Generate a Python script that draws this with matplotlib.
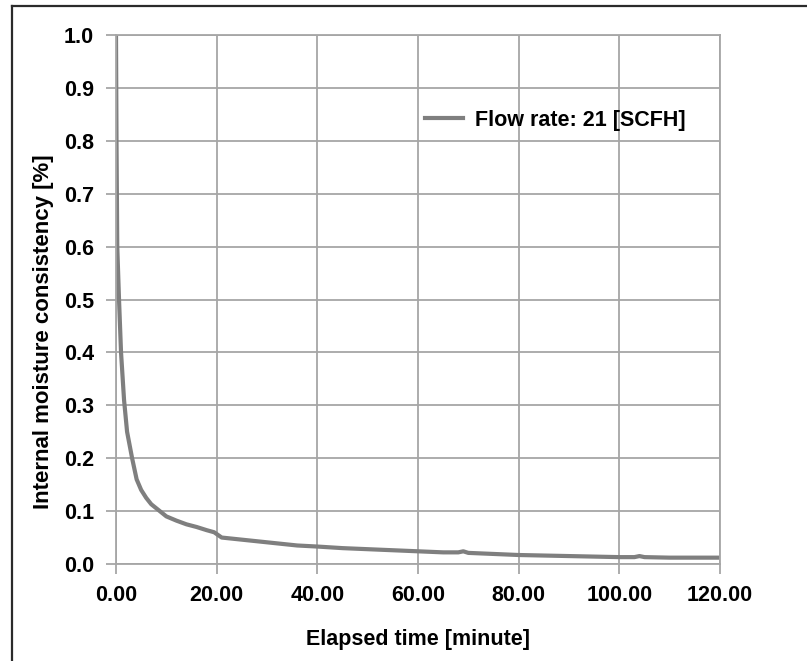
import matplotlib
matplotlib.use("Agg")
import matplotlib.pyplot as plt
from matplotlib.lines import Line2D

plt.rcParams['font.family'] = ['Liberation Sans', 'DejaVu Sans']

time_min = [0, 0.1, 0.25, 0.6, 1.0, 1.6, 2.2, 3.2, 4.1, 5, 6, 7, 8.7, 10, 12, 14, 16, 18,
            19.5, 21, 24, 28, 32, 36, 40, 45, 50, 55, 60, 65, 68, 69, 70, 75, 80, 85, 90, 95,
            100, 103, 104, 105, 110, 115, 120]
moisture = [1.0, 0.80, 0.6, 0.5, 0.4, 0.31, 0.25, 0.2, 0.16, 0.14, 0.125, 0.113, 0.1, 0.09,
            0.082, 0.075, 0.07, 0.064, 0.06, 0.05, 0.047, 0.043, 0.039, 0.035, 0.033, 0.03,
            0.028, 0.026, 0.024, 0.022, 0.022, 0.024, 0.021, 0.019, 0.017, 0.016, 0.015, 0.014,
            0.013, 0.013, 0.015, 0.013, 0.012, 0.012, 0.012]
series_label = "Flow rate: 21 [SCFH]"
x_ticks = [0, 20, 40, 60, 80, 100, 120]
y_ticks = [0.0, 0.1, 0.2, 0.3, 0.4, 0.5, 0.6, 0.7, 0.8, 0.9, 1.0]

W, H = 807, 661
FS = 15.5
fig = plt.figure(figsize=(W / 100, H / 100), dpi=100)
ax = fig.add_axes([116 / W, 1 - 564 / H, (720 - 116) / W, (564 - 35) / H])

grid_c = '#a6a6a6'
ax.plot(time_min, moisture, color='#7f7f7f', lw=3.0, label=series_label)
ax.set_xlim(0, 120)
ax.set_ylim(0, 1.0)
ax.set_xticks(x_ticks)
ax.set_yticks(y_ticks)
ax.set_xticklabels([f"{v:.2f}" for v in x_ticks])
ax.set_yticklabels([f"{v:.1f}" for v in y_ticks])
ax.grid(True, color=grid_c, lw=1.3)
ax.set_axisbelow(True)
for s in ax.spines.values():
    s.set_color(grid_c)
    s.set_linewidth(1.3)
ax.tick_params(axis='both', color=grid_c, length=7, width=1.3, labelsize=FS)
ax.tick_params(axis='y', pad=9)
ax.tick_params(axis='x', pad=8)
for lbl in ax.get_xticklabels() + ax.get_yticklabels():
    lbl.set_fontweight('bold')

ax.set_xlabel("Elapsed time [minute]", fontsize=FS, fontweight='bold', labelpad=17)
ax.set_ylabel("Internal moisture consistency [%]", fontsize=16, fontweight='bold')
ax.yaxis.set_label_coords(-0.1026, 0.4386)

leg = ax.legend(loc='upper left', bbox_to_anchor=(0.48, 0.895), frameon=False,
                handlelength=1.77, handletextpad=0.56, prop={'size': FS, 'weight': 'bold'})

fig.add_artist(Line2D([12 / W, 12 / W], [0, 1 - 6 / H], color='#2b2b2b', lw=1.6))
fig.add_artist(Line2D([12 / W, 1], [1 - 6 / H, 1 - 6 / H], color='#2b2b2b', lw=1.6))

fig.savefig("out.png", dpi=100)
